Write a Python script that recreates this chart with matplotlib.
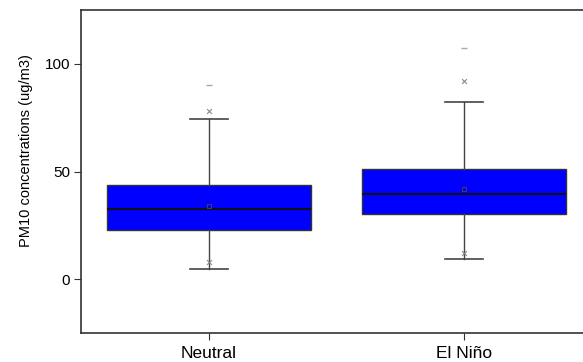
import matplotlib
matplotlib.use('Agg')
import matplotlib.pyplot as plt

plt.rcParams['font.family'] = ['Liberation Sans', 'DejaVu Sans']

categories = ['Neutral', 'El Niño']
q1 = [22.8, 30.2]
median = [32.6, 39.5]
q3 = [43.7, 51.2]
mean = [34.0, 41.9]
whisker_low = [4.7, 9.3]
whisker_high = [74.4, 82.3]
pct_low = [8.0, 12.0]
pct_high = [78.0, 92.0]
maximum = [90.0, 107.5]

stats = []
for i, name in enumerate(categories):
    stats.append({'label': name, 'q1': q1[i], 'med': median[i], 'q3': q3[i],
                  'mean': mean[i], 'whislo': whisker_low[i], 'whishi': whisker_high[i],
                  'fliers': []})

fig = plt.figure(figsize=(5.83, 3.62), dpi=100)
ax = fig.add_axes([0.139, 0.080, 0.876, 0.892])

positions = list(range(len(categories)))
ax.bxp(stats, positions=positions, widths=0.8, patch_artist=True, showmeans=True,
       boxprops=dict(facecolor='#0000ff', edgecolor='#333333', linewidth=1.0),
       medianprops=dict(color='#111111', linewidth=1.5),
       whiskerprops=dict(color='#444444', linewidth=1.0),
       capprops=dict(color='#444444', linewidth=1.2),
       meanprops=dict(marker='s', markersize=3, markerfacecolor='none',
                      markeredgecolor='#444444', markeredgewidth=0.7),
       capwidths=0.15)

# 1st/99th percentile crosses and maximum dash
ax.scatter(positions, pct_low, marker='x', s=12, color='#888888', linewidths=0.8, zorder=4)
ax.scatter(positions, pct_high, marker='x', s=12, color='#888888', linewidths=0.8, zorder=4)
ax.scatter(positions, maximum, marker='_', s=20, color='#aaaaaa', linewidths=1.0, zorder=4)

ax.set_xlim(-0.5, 1.5)
ax.set_ylim(-25, 125)
ax.set_yticks([0, 50, 100])
ax.set_xticks(positions)
ax.set_xticklabels(categories, fontsize=12.5)
ax.tick_params(axis='y', labelsize=11, length=5, color='#333333', pad=3)
ax.tick_params(axis='x', length=5, color='#333333', pad=4)
ax.set_ylabel('PM10 concentrations (ug/m3)', fontsize=10.5)
ax.yaxis.set_label_coords(-0.094, 0.564)
for s in ax.spines.values():
    s.set_color('#333333')
    s.set_linewidth(1.2)

fig.savefig('out.png', dpi=100)
